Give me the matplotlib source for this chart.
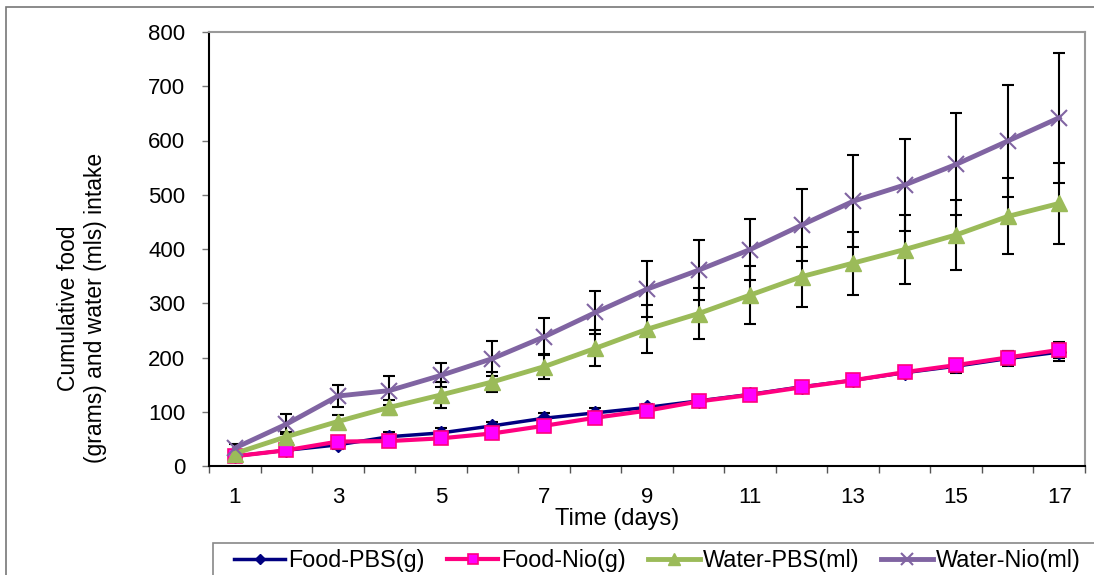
import matplotlib
matplotlib.use("Agg")
import matplotlib.pyplot as plt
from matplotlib.lines import Line2D
from matplotlib.patches import Rectangle
import numpy as np

plt.rcParams['font.family'] = ['Liberation Sans', 'DejaVu Sans']

days = list(range(1, 18))
xtick_labels = ['1', '3', '5', '7', '9', '11', '13', '15', '17']

food_pbs = [18, 29, 39, 54, 61, 74, 88, 98, 108, 120, 132, 146, 158, 172, 184, 198, 210]
food_pbs_err = [5, 6, 8, 8, 9, 8, 9, 8, 6, 7, 9, 9, 10, 10, 12, 14, 16]
food_nio = [18, 29, 45, 46, 51, 60, 74, 89, 102, 119, 131, 145, 158, 173, 186, 200, 214]
food_nio_err = [4, 5, 7, 6, 7, 7, 8, 7, 6, 6, 8, 8, 9, 9, 10, 12, 14]
water_pbs = [23, 54, 82, 108, 131, 155, 183, 217, 252, 281, 315, 349, 374, 399, 426, 460, 484]
water_pbs_err = [5, 8, 12, 14, 24, 18, 23, 33, 44, 47, 54, 55, 58, 63, 64, 70, 75]
water_nio = [33, 77, 129, 139, 167, 198, 238, 283, 326, 361, 399, 444, 488, 518, 556, 599, 642]
water_nio_err = [8, 18, 20, 26, 22, 33, 34, 39, 51, 55, 57, 67, 85, 85, 94, 104, 120]

labels = ['Food-PBS(g)', 'Food-Nio(g)', 'Water-PBS(ml)', 'Water-Nio(ml)']

W, H = 1094, 575
fig = plt.figure(figsize=(W / 100, H / 100), dpi=100)
ax = fig.add_axes([209 / W, 1 - 466 / H, (1085 - 209) / W, (466 - 32) / H])

series = [
    dict(y=food_pbs, e=food_pbs_err, color='#000080', lw=2.5, marker='D', ms=7,
         mfc='#000080', mec='#000080', mew=1),
    dict(y=food_nio, e=food_nio_err, color='#FF0080', lw=3.0, marker='s', ms=9.5,
         mfc='#FF00FF', mec='#FF0080', mew=1.2),
    dict(y=water_pbs, e=water_pbs_err, color='#9BBB59', lw=3.5, marker='^', ms=12,
         mfc='#9BBB59', mec='#9BBB59', mew=1),
    dict(y=water_nio, e=water_nio_err, color='#8064A2', lw=3.5, marker='x', ms=12,
         mfc='#8064A2', mec='#8064A2', mew=1.5),
]

handles = []
for i, (s, lab) in enumerate(zip(series, labels)):
    ax.errorbar(days, s['y'], yerr=s['e'], fmt='none', ecolor='black',
                elinewidth=1.5, capsize=4, capthick=1.5, zorder=2 + i * 0.1)
    ax.plot(days, s['y'], color=s['color'], lw=s['lw'], marker=s['marker'],
            ms=s['ms'], mfc=s['mfc'], mec=s['mec'], mew=s['mew'], zorder=3 + i * 0.1)
    handles.append(Line2D([], [], color=s['color'], lw=s['lw'], marker=s['marker'],
                          ms=s['ms'] * 0.75, mfc=s['mfc'], mec=s['mec'], mew=s['mew']))

ax.set_xlim(0.5, 17.5)
ax.set_ylim(0, 800)
ax.set_yticks(np.arange(0, 801, 100))
ax.set_xticks(days[::2])
ax.set_xticklabels(xtick_labels)
ax.set_xticks(np.arange(0.5, 17.6, 1), minor=True)
ax.tick_params(axis='x', which='major', length=0, pad=15, labelsize=16)
ax.tick_params(axis='x', which='minor', length=5, width=1, color='#555555', direction='out')
ax.tick_params(axis='y', which='major', length=5, width=1, color='#777777', pad=12, labelsize=16)

for side in ['top', 'right']:
    ax.spines[side].set_color('#999999')
    ax.spines[side].set_linewidth(1.5)
for side in ['left', 'bottom']:
    ax.spines[side].set_color('black')
    ax.spines[side].set_linewidth(1.5)

fig.text(82 / W, 1 - 308 / H, 'Cumulative food\n(grams) and water (mls) intake',
         rotation=90, ha='center', va='center', multialignment='center', fontsize=16.5,
         linespacing=1.2, rotation_mode='anchor')
fig.text(617 / W, 1 - 519 / H, 'Time (days)', ha='center', va='center', fontsize=17)

leg = fig.legend(handles, labels, loc='center left', bbox_to_anchor=(234 / W, 1 - 561 / H),
                 ncol=4, fontsize=16.8, frameon=False,
                 handlelength=2.2, handletextpad=0.13, columnspacing=0.95,
                 borderaxespad=0, borderpad=0)

fig.patches.append(Rectangle((213 / W, -0.1), 1.0, 0.1 + 1 - 543 / H, transform=fig.transFigure,
                             fill=False, edgecolor='#888888', lw=1.2, zorder=-1))
fig.patches.append(Rectangle((6 / W, -0.1), 1.2, 1 - 7 / H + 0.1, transform=fig.transFigure,
                             fill=False, edgecolor='#777777', lw=1.2, zorder=-1))

fig.savefig('out.png', dpi=100)
